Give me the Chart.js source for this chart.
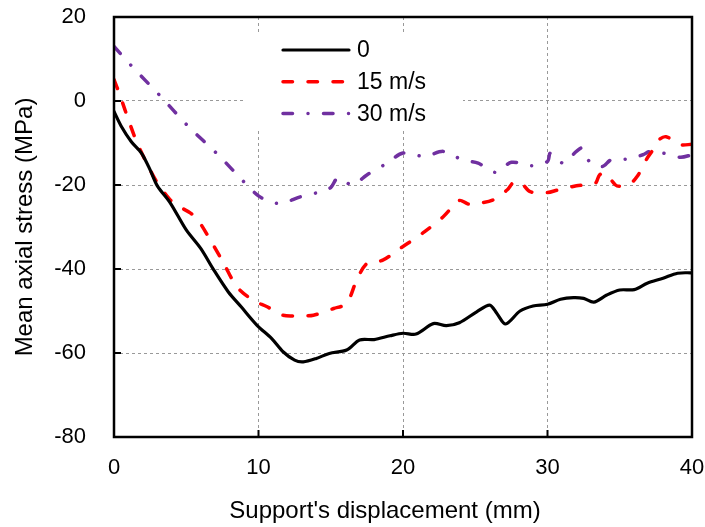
<!DOCTYPE html>
<html>
<head>
<meta charset="utf-8">
<script src="https://cdn.jsdelivr.net/npm/chart.js@4/dist/chart.umd.min.js"></script>
<style>
  html, body { margin: 0; padding: 0; background: #fff; }
  #wrap { width: 705px; height: 527px; }
</style>
</head>
<body>
<div id="wrap"><canvas id="c" width="705" height="527"></canvas></div>
<script>
// ---- data ----
const seriesLabels = ["0", "15 m/s", "30 m/s"];

const x0 = [0, 0.5, 1.2, 1.9, 2.5, 3.0, 3.9, 5.0, 6.0, 6.9, 7.9, 8.8, 9.9, 10.9, 11.7, 12.5, 13.1, 14.0, 14.9, 16.1, 17.0, 18.0, 19.1, 20.0, 20.9, 22.1, 23.0, 23.9, 25.1, 26.0, 26.5, 27.1, 28.1, 29.0, 30.0, 30.9, 31.8, 32.5, 33.2, 34.1, 35.0, 36.0, 36.9, 38.0, 39.0, 40.0];
const y0 = [-2.5, -6, -9.7, -12.4, -16.4, -20.2, -24.3, -30.7, -35.1, -40.2, -45.4, -49, -53.4, -56.5, -59.7, -61.7, -62.1, -61.3, -60.1, -59.3, -56.9, -56.8, -55.9, -55.3, -55.5, -53, -53.5, -52.8, -50.2, -48.6, -50.6, -53.1, -50, -48.8, -48.4, -47.2, -46.8, -47, -47.9, -46.2, -45, -44.9, -43.4, -42.2, -41, -40.9];

const x15 = [0, 0.4, 0.8, 1.6, 2.5, 3.0, 3.8, 4.3, 5.3, 5.8, 6.6, 7.6, 8.5, 9.6, 10.6, 11.7, 12.9, 13.8, 15.2, 16.1, 16.8, 17.5, 18.6, 19.8, 20.5, 21.5, 22.8, 23.9, 24.5, 25.3, 26.2, 27.2, 27.7, 28.2, 28.8, 30.0, 30.7, 32.0, 33.3, 33.6, 34.0, 34.5, 34.8, 35.6, 36.2, 36.9, 37.3, 37.7, 38.2, 39.2, 40.0];
const y15 = [5.1, 1.5, -2.5, -10, -16.4, -19.5, -23.2, -24.7, -26.7, -28.3, -32.7, -38.7, -44.2, -47.4, -49, -51, -51.1, -51, -49.4, -48.2, -42.6, -38.7, -37.9, -35.1, -33.5, -31.1, -27.5, -23.7, -24.5, -24.3, -23.6, -21.2, -19.2, -19.6, -21.6, -21.8, -21.2, -20.2, -19.6, -17.6, -17.2, -19.2, -20.2, -20, -18, -13.6, -11.6, -9.3, -8.5, -10.4, -10.3];

const x30 = [0, 1.2, 3.2, 5.1, 7.2, 9.2, 10.0, 10.8, 11.6, 12.9, 14.3, 15.0, 15.5, 16.5, 17.5, 18.9, 20.0, 21.5, 22.8, 24.1, 25.2, 26.4, 27.5, 28.9, 30.0, 30.2, 31.1, 32.0, 32.4, 32.9, 33.8, 34.4, 35.5, 36.6, 37.1, 38.0, 39.2, 40.0];
const y30 = [13, 8.4, 1.2, -5.9, -12.8, -20, -22.6, -24, -24.4, -22.8, -21.6, -20.6, -18.3, -20, -17.6, -14.8, -12.4, -13.2, -12, -14, -14.8, -17, -14.6, -15.4, -14.4, -12.4, -14.8, -12, -11.2, -14.4, -15.6, -14, -13.8, -12.8, -12, -12.4, -13.4, -12.8];

const xTicks = [0, 10, 20, 30, 40];
const yTicks = [20, 0, -20, -40, -60, -80];
const xTitle = "Support's displacement (mm)";
const yTitle = "Mean axial stress (MPa)";

// ---- build ----
const pts = (xs, ys) => xs.map((x, i) => ({ x: x, y: ys[i] }));
const FONT = "'Liberation Sans', Arial, sans-serif";
const FS = 22;      // tick labels
const FS_LEG = 23;  // legend
const FS_T = 24;    // axis titles

const datasets = [
  { label: seriesLabels[0], data: pts(x0, y0), borderColor: '#000000', borderWidth: 3.2, borderDash: [], borderCapStyle: 'round' },
  { label: seriesLabels[1], data: pts(x15, y15), borderColor: '#ff0000', borderWidth: 3.5, borderDash: [9.5, 15.5], borderCapStyle: 'round' },
  { label: seriesLabels[2], data: pts(x30, y30), borderColor: '#7030a0', borderWidth: 3.5, borderDash: [9.5, 15.5, 0.01, 15.5], borderCapStyle: 'round' }
].map(d => Object.assign(d, { pointRadius: 0, tension: 0.3, fill: false }));

const gridColor = (ctx) => {
  const v = ctx.tick && ctx.tick.value;
  const s = ctx.scale;
  if (v === s.min || v === s.max) return 'rgba(0,0,0,0)';
  return '#999999';
};

const framePlugin = {
  id: 'frame',
  afterDraw(chart) {
    const { ctx, chartArea: a, scales } = chart;
    ctx.save();
    // legend box
    ctx.fillStyle = '#ffffff';
    ctx.fillRect(245, 33, 218, 95);
    const rows = [50, 81.7, 113.5];
    chart.data.datasets.forEach((d, i) => {
      ctx.beginPath();
      ctx.strokeStyle = d.borderColor;
      ctx.lineWidth = d.borderWidth;
      ctx.lineCap = d.borderCapStyle;
      ctx.setLineDash(d.borderDash);
      ctx.moveTo(283, rows[i]);
      ctx.lineTo(349, rows[i]);
      ctx.stroke();
      ctx.setLineDash([]);
      ctx.fillStyle = '#000';
      ctx.font = FS_LEG + 'px ' + FONT;
      ctx.textAlign = 'left';
      ctx.textBaseline = 'middle';
      ctx.fillText(d.label, 357, rows[i] + 1);
    });
    // frame
    ctx.setLineDash([]);
    ctx.lineCap = 'butt';
    ctx.strokeStyle = '#000';
    ctx.lineWidth = 2.5;
    ctx.strokeRect(a.left, a.top, a.right - a.left, a.bottom - a.top);
    // inward ticks
    ctx.lineWidth = 2;
    xTicks.forEach(v => {
      const px = scales.x.getPixelForValue(v);
      ctx.beginPath(); ctx.moveTo(px, a.bottom); ctx.lineTo(px, a.bottom - 7); ctx.stroke();
    });
    yTicks.forEach(v => {
      const py = scales.y.getPixelForValue(v);
      ctx.beginPath(); ctx.moveTo(a.left, py); ctx.lineTo(a.left + 7, py); ctx.stroke();
    });
    // x title
    ctx.fillStyle = '#000';
    ctx.font = FS_T + 'px ' + FONT;
    ctx.textAlign = 'center';
    ctx.textBaseline = 'middle';
    ctx.fillText(xTitle, 385, 511);
    ctx.restore();
  }
};

new Chart(document.getElementById('c'), {
  type: 'line',
  data: { datasets },
  plugins: [framePlugin],
  options: {
    responsive: false,
    animation: false,
    devicePixelRatio: 1,
    layout: { padding: { left: 0, right: 13, top: 17, bottom: 0 } },
    plugins: { legend: { display: false }, tooltip: { enabled: false } },
    scales: {
      x: {
        type: 'linear', min: 0, max: 40,
        afterFit(s) { s.height = 90; s.paddingLeft = 0; s.paddingRight = 0; },
        afterBuildTicks(s) { s.ticks = xTicks.map(v => ({ value: v })); },
        ticks: { font: { family: FONT, size: FS }, color: '#000', padding: 18, maxRotation: 0 },
        grid: { color: gridColor, lineWidth: 1, drawTicks: false },
        border: { display: false, dash: [3, 3] },
        title: { display: false }
      },
      y: {
        type: 'linear', min: -80, max: 20,
        afterFit(s) { s.width = 114; s.paddingTop = 0; s.paddingBottom = 0; },
        afterBuildTicks(s) { s.ticks = yTicks.map(v => ({ value: v })); },
        ticks: { font: { family: FONT, size: FS }, color: '#000', padding: 28 },
        grid: { color: gridColor, lineWidth: 1, drawTicks: false },
        border: { display: false, dash: [3, 3] },
        title: { display: true, text: yTitle, font: { family: FONT, size: FS_T }, color: '#000', padding: { top: 10.5, bottom: 0 } }
      }
    }
  }
});
</script>
</body>
</html>
